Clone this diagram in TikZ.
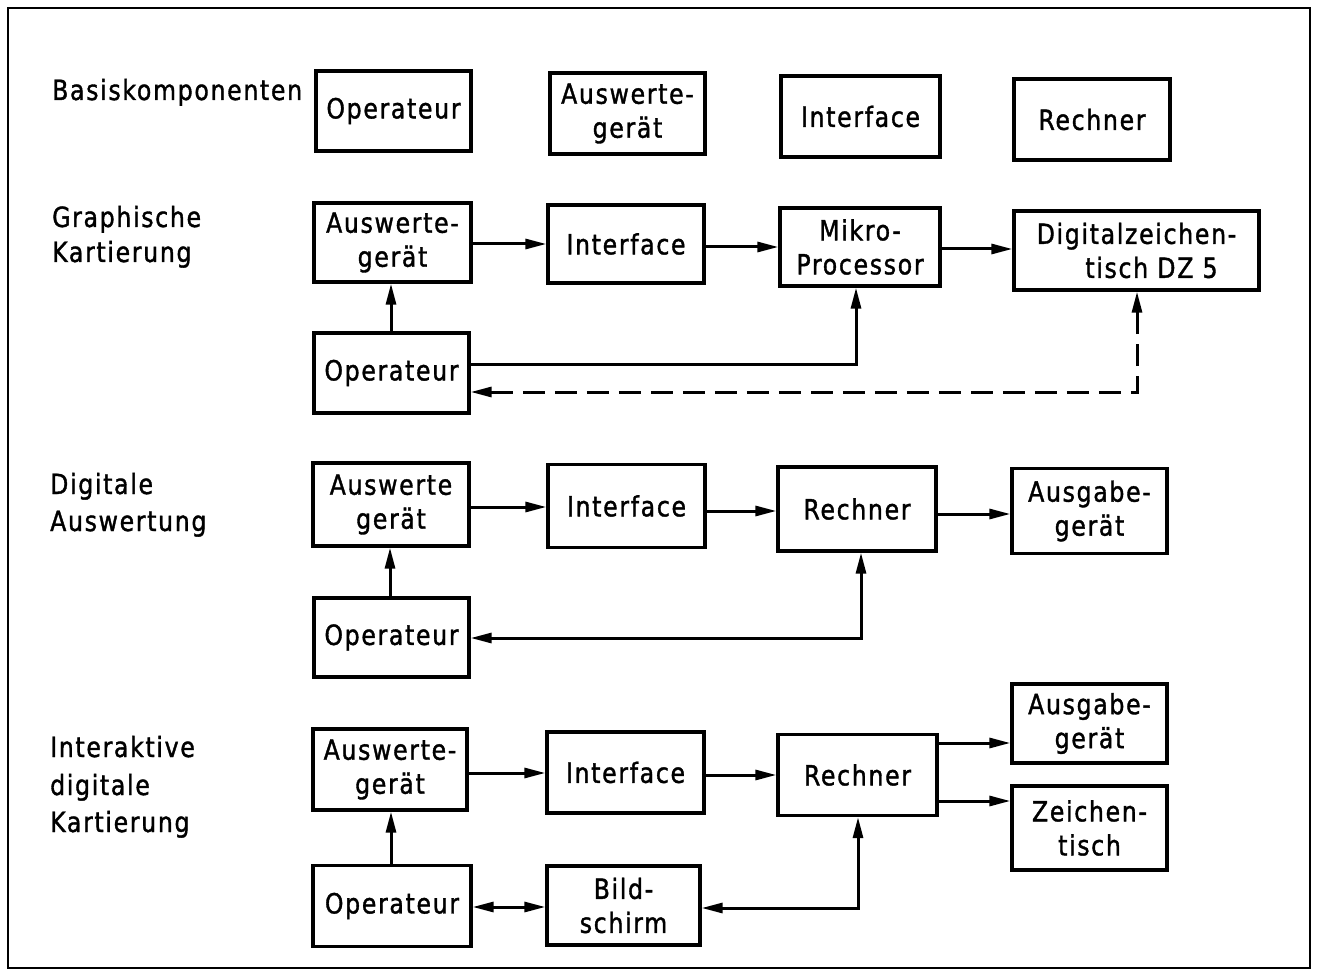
\documentclass[tikz,border=0pt]{standalone}
\usepackage{fontspec}
\setmainfont[FakeStretch=0.85,LetterSpace=6,FakeBold=1.3]{DejaVu Sans}
\usetikzlibrary{arrows.meta,calc}
\begin{document}
\begin{tikzpicture}[x=1pt,y=-1pt,
  txt/.style={font=\fontsize{27.8}{34}\selectfont},
  box/.style={txt,draw,line width=3.3pt,inner sep=0pt,align=center},
  lab/.style={txt,anchor=base west,inner sep=0pt},
  arr/.style={line width=3pt,-{Triangle[length=21pt,width=10pt]}},
  darr/.style={line width=3pt,{Triangle[length=21pt,width=10pt]}-{Triangle[length=21pt,width=10pt]}},
  dsh/.style={dash pattern=on 22pt off 10pt}
]
\useasboundingbox (0,0) rectangle (1320,976);
\draw[line width=2.8pt] (8,8) rectangle (1310,968);

% labels
\node[lab] (l1) at (52,100) {Basiskomponenten};
\node[lab] (l2a) at (52,227) {Graphische};
\node[lab] (l2b) at (52,262) {Kartierung};
\node[lab] (l3a) at (50,494) {Digitale};
\node[lab] (l3b) at (50,531) {Auswertung};
\node[lab] (l4a) at (50,757) {Interaktive};
\node[lab] (l4b) at (50,795) {digitale};
\node[lab] (l4c) at (50,832) {Kartierung};

% row 1
\node[box,minimum width=155pt,minimum height=80pt] (op1) at (393.5,111) {Operateur};
\node[box,minimum width=155pt,minimum height=81pt] (aw1) at (627.5,113.5) {Auswerte-\\gerät};
\node[box,minimum width=159pt,minimum height=81pt] (if1) at (860.5,116.5) {Interface};
\node[box,minimum width=156pt,minimum height=81pt] (re1) at (1092,119.5) {Rechner};

% row 2
\node[box,minimum width=157pt,minimum height=79pt] (aw2) at (392.5,242.5) {Auswerte-\\gerät};
\node[box,minimum width=156pt,minimum height=78pt] (if2) at (626,244) {Interface};
\node[box,minimum width=160pt,minimum height=78pt] (mp2) at (860,247) {Mikro-\\Processor};
\node[box,minimum width=245pt,minimum height=79pt] (dz2) at (1136.5,250.5) {Digitalzeichen-\\\hspace*{30pt}tisch DZ 5};
\node[box,minimum width=155pt,minimum height=80pt] (op2) at (391.5,373) {Operateur};

\draw[arr] (aw2.east |- 0,244) -- (if2.west |- 0,244);
\draw[arr] (if2.east |- 0,247) -- (mp2.west |- 0,247);
\draw[arr] (mp2.east |- 0,249) -- (dz2.west |- 0,249);
\draw[arr] (391,0 |- op2.north) -- (391,0 |- aw2.south);
\draw[arr] (op2.east |- 0,364) -| (856,0 |- mp2.south);
\draw[darr,dsh] (op2.east |- 0,392) -| (1137,0 |- dz2.south);

% row 3
\node[box,minimum width=156pt,minimum height=83pt] (aw3) at (391,504.5) {Auswerte\\gerät};
\node[box,minimum width=157pt,minimum height=83pt] (if3) at (626.5,506) {Interface};
\node[box,minimum width=158pt,minimum height=84pt] (re3) at (857,509) {Rechner};
\node[box,minimum width=155pt,minimum height=85pt] (ag3) at (1089.5,511) {Ausgabe-\\gerät};
\node[box,minimum width=155pt,minimum height=79pt] (op3) at (391.5,637.5) {Operateur};

\draw[arr] (aw3.east |- 0,507) -- (if3.west |- 0,507);
\draw[arr] (if3.east |- 0,511) -- (re3.west |- 0,511);
\draw[arr] (re3.east |- 0,514) -- (ag3.west |- 0,514);
\draw[arr] (390,0 |- op3.north) -- (390,0 |- aw3.south);
\draw[darr] (op3.east |- 0,638) -| (861,0 |- re3.south);

% row 4
\node[box,minimum width=154pt,minimum height=81pt] (aw4) at (390,769.5) {Auswerte-\\gerät};
\node[box,minimum width=157pt,minimum height=81pt] (if4) at (625.5,772.5) {Interface};
\node[box,minimum width=159pt,minimum height=81pt] (re4) at (857.5,775) {Rechner};
\node[box,minimum width=155pt,minimum height=79pt] (ag4) at (1089.5,723.5) {Ausgabe-\\gerät};
\node[box,minimum width=155pt,minimum height=84pt] (zt4) at (1089.5,828) {Zeichen-\\tisch};
\node[box,minimum width=158pt,minimum height=81pt] (op4) at (392,906) {Operateur};
\node[box,minimum width=153pt,minimum height=79pt] (bs4) at (623.5,905.5) {Bild-\\schirm};

\draw[arr] (aw4.east |- 0,773) -- (if4.west |- 0,773);
\draw[arr] (if4.east |- 0,775) -- (re4.west |- 0,775);
\draw[arr] (re4.east |- 0,743) -- (ag4.west |- 0,743);
\draw[arr] (re4.east |- 0,801) -- (zt4.west |- 0,801);
\draw[arr] (391,0 |- op4.north) -- (391,0 |- aw4.south);
\draw[darr] (op4.east |- 0,907) -- (bs4.west |- 0,907);
\draw[darr] (bs4.east |- 0,908) -| (858,0 |- re4.south);
\end{tikzpicture}
\end{document}
